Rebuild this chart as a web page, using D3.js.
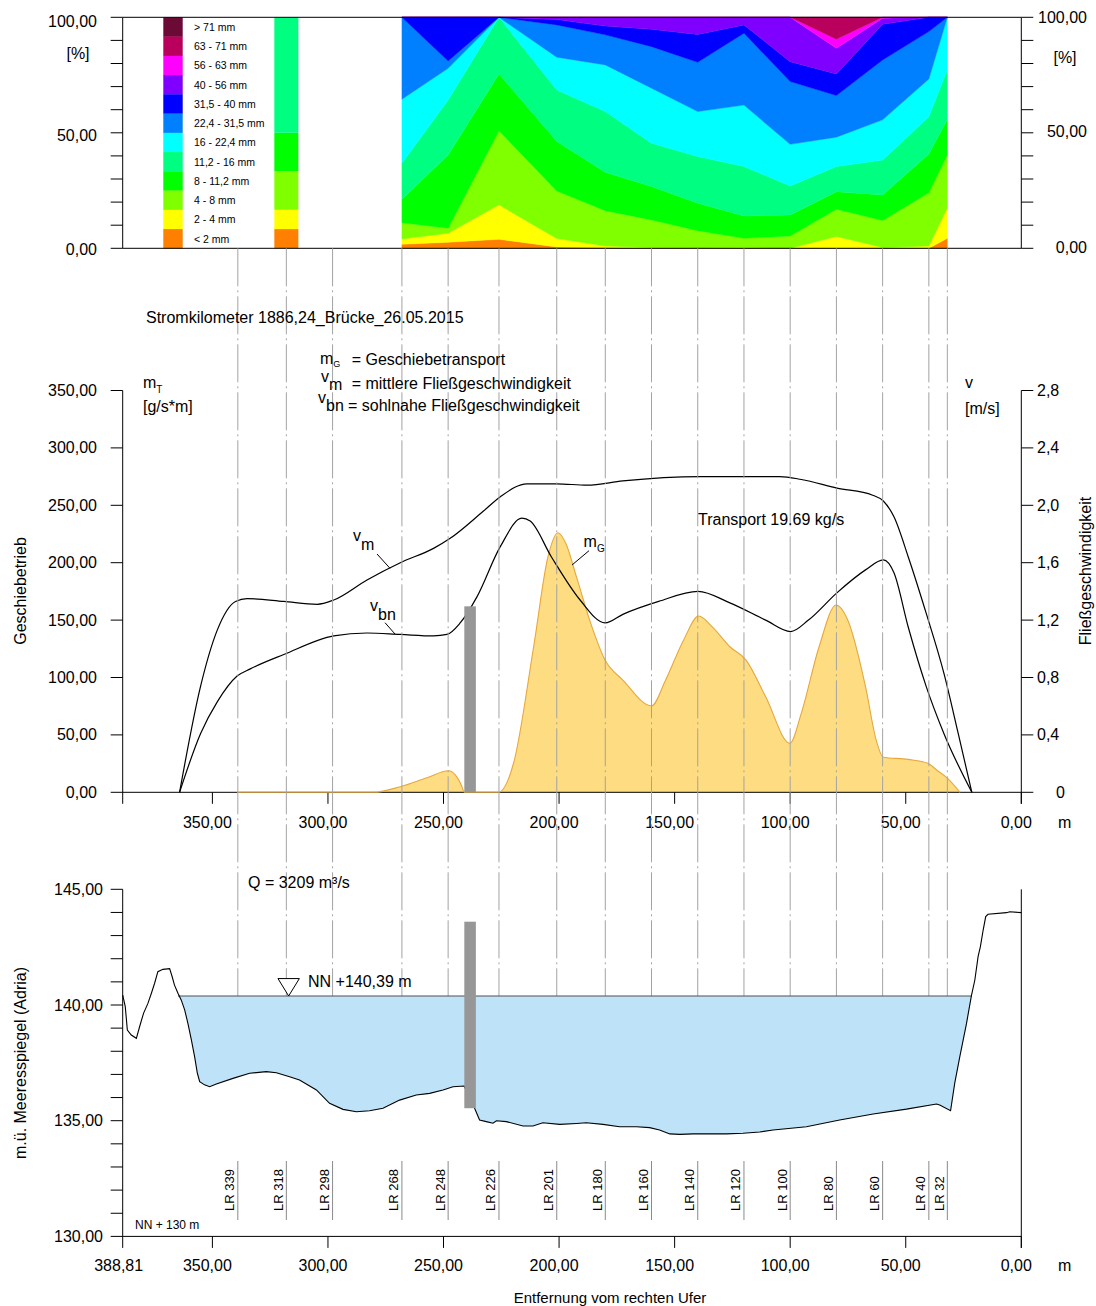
<!DOCTYPE html>
<html><head><meta charset="utf-8">
<script src="https://cdn.jsdelivr.net/npm/d3@7"></script>
<style>
body{margin:0;background:#fff}
svg{display:block}
text{font-family:'Liberation Sans',Arial,Helvetica,sans-serif;fill:#000}
</style>
</head><body>
<svg id="c" width="1096" height="1306"></svg>
<script>
// ---------------- DATA ----------------
const lrStations = [339,318,298,268,248,226,201,180,160,140,120,100,80,60,40,32];
const sampleStations = [268,248,226,201,180,160,140,120,100,80,60,40,32];
const grainClasses = ["< 2 mm","2 - 4 mm","4 - 8 mm","8 - 11,2 mm","11,2 - 16 mm","16 - 22,4 mm",
  "22,4 - 31,5 mm","31,5 - 40 mm","40 - 56 mm","56 - 63 mm","63 - 71 mm","> 71 mm"];
const grainColors = ["#ff8000","#ffff00","#80ff00","#00ff00","#00ff80","#00ffff",
  "#0080ff","#0000ff","#8000ff","#ff00ff","#b8005c","#6b0a35"];
// cumulative passing [%] (upper edge of each class) at the sample stations
const passLt2    = [1.7,2.6,3.9,0.6,0.3,0.1,0,0,0,0,0,0,4.3];
const pass2to4   = [4.0,6.5,18.8,4.2,1.0,0.4,0.1,0.3,0,5.1,0.4,1.0,17.6];
const pass4to8   = [11.1,8.7,50.9,24.8,16.3,12.3,7.6,4.3,5.3,16.9,12.0,24.1,40.4];
const pass8to11  = [21.2,40.4,75.5,46.2,32.9,26.7,19.5,14.0,14.4,24.5,23.1,40.8,55.8];
const pass11to16 = [36.8,64.2,100,68.5,59.2,45.5,39.7,35.4,27.0,35.4,38.2,57.0,77.2];
const pass16to22 = [64.5,77.9,100,82.7,79.4,69.3,59.2,62.0,45.0,48.1,55.6,73.3,100];
const pass22to31 = [100,81.1,100,96.7,92.4,87.3,80.5,93.1,72.2,66.1,81.5,93.8,100];
const pass31to40 = [100,100,100,99.0,96.2,94.8,92.6,96.7,80.8,75.5,97.0,100,100];
const pass40to56 = [100,100,100,100,100,100,100,100,100,86.6,99.6,100,100];
const pass56to63 = [100,100,100,100,100,100,100,100,100,90.5,100,100,100];
const pass63to71 = [100,100,100,100,100,100,100,100,100,100,100,100,100];
const passGt71   = [100,100,100,100,100,100,100,100,100,100,100,100,100];
// single sample bar at LR 318
const stripStation = 318;
const stripPass = [8.33,16.67,33.33,50,100,100,100,100,100,100,100,100];

// mean velocity v_m [m/s]
const vmDist = [364.2,355.1,347.9,340.0,335.0,319.1,304.7,297.5,283.1,268.7,254.3,247.1,232.7,225.4,213.9,201.0,187.9,172.4,139.0,104.5,95.2,79.8,64.3,59.7,55.1,48.9,41.2,33.5,27.3,21.4];
const vmVal  = [0,0.74,1.13,1.33,1.35,1.33,1.31,1.34,1.48,1.60,1.70,1.77,1.96,2.06,2.15,2.15,2.14,2.17,2.20,2.20,2.18,2.12,2.07,2.03,1.92,1.64,1.25,0.83,0.41,0];
// near-bed velocity v_bn [m/s]
const vbnDist = [364.2,355.1,347.9,339.3,333.6,319.1,297.5,283.1,268.7,254.3,248.5,242.8,235.6,225.5,216.1,212.5,203.3,190.9,180.1,172.4,156.9,139.9,126.1,110.6,99.8,92.1,79.8,67.4,59.7,55.1,48.9,41.2,33.5,21.4];
const vbnVal  = [0,0.41,0.63,0.81,0.86,0.96,1.09,1.11,1.10,1.09,1.10,1.18,1.36,1.71,1.91,1.89,1.64,1.34,1.18,1.24,1.33,1.40,1.32,1.20,1.12,1.20,1.39,1.55,1.62,1.53,1.15,0.74,0.41,0];
// bedload transport m_G [g/s*m]
const mgDist = [339.3,280.2,268.7,257.2,247.8,244.9,242.0,241.0,226.2,219.7,211.0,204.8,200.5,197.1,192.5,186.3,180.1,172.4,160.0,153.9,146.1,139.6,133.8,126.1,119.1,110.6,100.1,95.2,87.5,80.1,75.1,67.4,62.8,59.7,48.9,40.4,36.6,31.9,26.5];
const mgVal  = [0,0,4.9,12.7,18.8,15.1,4.9,0,0,25.3,126.8,205.2,226.1,216.9,187.8,147.2,115.2,97.8,75.2,97.8,132.7,153.6,144.3,126.8,115.2,83.3,42.7,68.8,126.8,163.2,150.1,92.0,45.6,30.5,28.7,25.3,19.4,12.2,0];

// bridge pier
const pierDist = [241.0, 236.0];
const pierTransportTop = 162;
const pierElev = [135.54, 143.6];

// cross-section ground profile [m ü. Adria]
const groundDist = [388.8,387.7,386.8,385.1,382.9,381.5,379.8,377.9,376.4,375.0,373.6,371.4,368.5,367.4,366.4,364.9,363.5,362.0,360.6,359.1,357.7,356.5,355.5,353.4,351.2,348.3,341.1,333.9,326.7,322.3,316.6,312.3,305.0,299.3,293.5,287.7,282.0,276.2,269.0,261.8,256.0,250.2,245.9,241.1,236.5,234.4,231.5,228.6,227.1,222.8,215.6,211.3,207.0,199.7,192.5,188.2,181.0,173.8,166.5,160.8,156.5,152.1,147.8,142.0,127.6,120.4,113.2,107.4,93.0,78.6,64.1,49.7,36.7,35.3,30.6,28.8,26.6,23.7,21.6,20.1,18.7,17.7,16.5,15.4,14.4,6.4,5.0,0];
const groundElev = [140.43,139.93,138.92,138.70,138.56,139.06,139.64,140.07,140.51,140.94,141.44,141.54,141.57,141.22,140.86,140.51,140.22,139.79,139.21,138.49,137.77,137.05,136.69,136.55,136.47,136.59,136.83,137.05,137.12,137.07,136.90,136.76,136.33,135.75,135.49,135.39,135.43,135.54,135.89,136.11,136.18,136.33,136.47,136.50,135.53,135.03,134.96,134.89,135.00,134.96,134.77,134.77,134.91,134.84,134.88,134.91,134.84,134.74,134.74,134.70,134.60,134.43,134.41,134.43,134.43,134.46,134.51,134.60,134.74,135.03,135.29,135.50,135.72,135.68,135.43,136.62,137.77,139.21,140.39,141.08,142.09,142.52,143.24,143.82,143.92,143.99,144.03,143.99];
const waterLevel = 140.39;
const waterEdges = [364.9, 21.6];
const trianglePos = 317;

// tick labels
const pctTicks = [0,50,100];
const mTicks = [0,50,100,150,200,250,300,350];
const vTicks = [0,0.4,0.8,1.2,1.6,2.0,2.4,2.8];
const elevTicks = [130,135,140,145];
const distTicks = [350,300,250,200,150,100,50,0];

// ---------------- DRAW ----------------
const svg = d3.select("#c");
svg.append("rect").attr("width",1096).attr("height",1306).attr("fill","#fff");
const fmt2 = d3.format(".2f");
const de = s => s.replace(".", ",");

const x = d3.scaleLinear().domain([388.81, 0]).range([122.7, 1021.3]);
const X0 = x(388.81), X1 = x(0);
const yP = d3.scaleLinear().domain([0,100]).range([248.3,17.3]);
const yM = d3.scaleLinear().domain([0,350]).range([792.3,390.5]);
const yV = d3.scaleLinear().domain([0,2.8]).range([792.3,390.5]);
const yE = d3.scaleLinear().domain([130,145]).range([1236.4,889.3]);

function line(g,x1,y1,x2,y2,stroke="#000",w=1){
  return g.append("line").attr("x1",x1).attr("y1",y1).attr("x2",x2).attr("y2",y2)
    .attr("stroke",stroke).attr("stroke-width",w);
}
function text(g,xx,yy,s,size=16,anchor="start"){
  return g.append("text").attr("x",xx).attr("y",yy).attr("font-size",size)
    .attr("text-anchor",anchor).text(s);
}

// ===== TOP PANEL: grain size distribution =====
const gTop = svg.append("g");
const passLists = [passLt2,pass2to4,pass4to8,pass8to11,pass11to16,pass16to22,pass22to31,pass31to40,pass40to56,pass56to63,pass63to71,passGt71];
const areaP = d3.area().x(p=>x(p.d)).y0(p=>yP(p.lo)).y1(p=>yP(p.hi));
passLists.forEach((arr,k)=>{
  const lower = k===0 ? arr.map(()=>0) : passLists[k-1];
  const pts = sampleStations.map((s,i)=>({d:s, lo:lower[i], hi:arr[i]}));
  gTop.append("path").attr("d",areaP(pts)).attr("fill",grainColors[k])
    .attr("stroke",grainColors[k]).attr("stroke-width",0.4);
});
// sample strip at LR 318
stripPass.forEach((v,k)=>{
  const lo = k===0 ? 0 : stripPass[k-1];
  if (v-lo <= 0) return;
  gTop.append("rect").attr("x",x(stripStation+5.2)).attr("width",x(stripStation-5.2)-x(stripStation+5.2))
    .attr("y",yP(v)).attr("height",yP(lo)-yP(v)).attr("fill",grainColors[k]);
});
// legend
const legH = (yP(0)-yP(100))/grainClasses.length;
grainClasses.slice().reverse().forEach((c,i)=>{
  const k = grainClasses.length-1-i;
  gTop.append("rect").attr("x",163.3).attr("y",yP(100)+i*legH).attr("width",19.4).attr("height",legH+0.3)
    .attr("fill",grainColors[k]);
  text(gTop,194,yP(100)+i*legH+legH/2+4,c,10.5);
});
// frame and ticks
line(gTop,X0,yP(0),X0,yP(100)); line(gTop,X1,yP(0),X1,yP(100));
line(gTop,X0,yP(100),X1,yP(100)); line(gTop,X0,yP(0),X1,yP(0));
d3.range(0,101,10).forEach(t=>{
  line(gTop,X0-12,yP(t),X0,yP(t)); line(gTop,X1,yP(t),X1+12,yP(t));
});
const pctLeftY = {0:254.5, 50:141, 100:26.5};
const pctRightY = {0:252.5, 50:137, 100:23};
pctTicks.forEach(t=>{
  text(gTop,97,pctLeftY[t],de(fmt2(t)),16,"end");
  text(gTop,1087,pctRightY[t],de(fmt2(t)),16,"end");
});
text(gTop,78,59,"[%]",16,"middle");
text(gTop,1065,63,"[%]",16,"middle");

// ===== MIDDLE PANEL =====
const gMid = svg.append("g");
const mgPts = mgDist.map((d,i)=>({d, v:mgVal[i]}));
gMid.append("path").attr("d", d3.area().curve(d3.curveMonotoneX).x(p=>x(p.d)).y0(yM(0)).y1(p=>yM(p.v))(mgPts))
  .attr("fill","#fddc82");
// axes
line(gMid,X0,yM(350),X0,yM(0)+11.5);
line(gMid,X1,yM(350),X1,yM(0)+11.5);
line(gMid,X0,yM(0),X1,yM(0));
mTicks.forEach(t=>{
  line(gMid,X0-12,yM(t),X0,yM(t));
  text(gMid,97,yM(t)+5.5,de(fmt2(t)),16,"end");
});
vTicks.forEach(t=>{
  line(gMid,X1,yV(t),X1+12,yV(t));
  text(gMid, t===0 ? 1056 : 1037, yV(t)+5.5, t===0 ? "0" : de(d3.format(".1f")(t)),16,"start");
});
distTicks.forEach(t=>{
  line(gMid,x(t),yM(0),x(t),yM(0)+11.5);
  text(gMid,x(t)-5,828,de(fmt2(t)),16,"middle");
});
text(gMid,1058,828,"m",16);
// m_G outline
gMid.append("path").attr("d", d3.line().curve(d3.curveMonotoneX).x(p=>x(p.d)).y(p=>yM(p.v))(mgPts))
  .attr("fill","none").attr("stroke","#e6a83e").attr("stroke-width",1.1);
// velocities
const vLine = d3.line().curve(d3.curveMonotoneX).x(p=>x(p.d)).y(p=>yV(p.v));
gMid.append("path").attr("d", vLine(vmDist.map((d,i)=>({d,v:vmVal[i]}))))
  .attr("fill","none").attr("stroke","#000").attr("stroke-width",1.2);
gMid.append("path").attr("d", vLine(vbnDist.map((d,i)=>({d,v:vbnVal[i]}))))
  .attr("fill","none").attr("stroke","#000").attr("stroke-width",1.2);
// pier
gMid.append("rect").attr("x",x(pierDist[0])).attr("width",x(pierDist[1])-x(pierDist[0]))
  .attr("y",yM(pierTransportTop)).attr("height",yM(0)-yM(pierTransportTop)).attr("fill","#979797");

// ===== BOTTOM PANEL =====
const gBot = svg.append("g");
// LR dashed lines (behind water)
lrStations.forEach(s=>{
  gBot.append("line").attr("x1",x(s)).attr("x2",x(s)).attr("y1",yP(0)).attr("y2",yE(waterLevel))
    .attr("stroke","#a3a3a3").attr("stroke-width",1).attr("stroke-dasharray","38,4,2,4");
});
// water
const gPts = groundDist.map((d,i)=>({d, e:groundElev[i]}));
const wet = [{d:waterEdges[0], e:waterLevel}]
  .concat(gPts.filter(p=>p.d<waterEdges[0] && p.d>waterEdges[1]))
  .concat([{d:waterEdges[1], e:waterLevel}]);
gBot.append("path").attr("d", d3.area().x(p=>x(p.d)).y0(yE(waterLevel)).y1(p=>yE(Math.min(p.e,waterLevel)))(wet))
  .attr("fill","#bee3f9");
line(gBot,x(waterEdges[0]),yE(waterLevel),x(waterEdges[1]),yE(waterLevel),"#505050",1.2);
gBot.append("path").attr("d", d3.line().x(p=>x(p.d)).y(p=>yE(p.e))(gPts))
  .attr("fill","none").attr("stroke","#000").attr("stroke-width",1.1);
gBot.append("rect").attr("x",x(pierDist[0])).attr("width",x(pierDist[1])-x(pierDist[0]))
  .attr("y",yE(pierElev[1])).attr("height",yE(pierElev[0])-yE(pierElev[1])).attr("fill","#979797");
// triangle
const tx = x(trianglePos), ty = yE(waterLevel);
gBot.append("path").attr("d",`M${tx-10.7},${ty-17.4}L${tx+10.7},${ty-17.4}L${tx},${ty}Z`)
  .attr("fill","#fff").attr("stroke","#000").attr("stroke-width",1);
text(gBot,308,987,"NN +" + de(fmt2(waterLevel)) + " m",16);
text(gBot,248,888,"Q = 3209 m³/s",16);
// axes
line(gBot,X0,yE(145),X0,yE(130)+11.5);
line(gBot,X1,yE(145),X1,yE(130)+11.5);
line(gBot,X0,yE(130),X1,yE(130));
d3.range(130,145.01,1).forEach(t=>line(gBot,X0-12,yE(t),X0,yE(t)));
elevTicks.forEach(t=>text(gBot,103,yE(t)+5.5,de(fmt2(t)),16,"end"));
distTicks.forEach(t=>{
  line(gBot,x(t),yE(130),x(t),yE(130)+11.5);
  text(gBot,x(t)-5,1271,de(fmt2(t)),16,"middle");
});
text(gBot,X0-4,1271,de(fmt2(388.81)),16,"middle");
text(gBot,1058,1271,"m",16);
// LR labels
lrStations.forEach(s=>{
  line(gBot,x(s),1161,x(s),1220,"#8a8a8a",1);
  gBot.append("text").attr("transform",`translate(${x(s)-3.5},1211) rotate(-90)`)
    .attr("font-size",13).text("LR " + s);
});
text(gBot,135,1229,"NN + 130 m",12);

// ===== TEXTS =====
const gTxt = svg.append("g");
text(gTxt,146,323,"Stromkilometer 1886,24_Brücke_26.05.2015",16);
let t1 = gTxt.append("text").attr("x",320).attr("y",364).attr("font-size",16);
t1.append("tspan").text("m");
t1.append("tspan").attr("font-size",9).attr("dy",3).text("G");
text(gTxt,351.7,365,"= Geschiebetransport",16);
let t2 = gTxt.append("text").attr("x",321).attr("y",382).attr("font-size",16);
t2.append("tspan").text("v");
t2.append("tspan").attr("dy",8).text("m");
text(gTxt,351.7,389,"= mittlere Fließgeschwindigkeit",16);
let t3 = gTxt.append("text").attr("x",318).attr("y",403).attr("font-size",16);
t3.append("tspan").text("v");
t3.append("tspan").attr("dy",8).text("bn");
text(gTxt,348,411,"= sohlnahe Fließgeschwindigkeit",16);
let t4 = gTxt.append("text").attr("x",143).attr("y",388).attr("font-size",16);
t4.append("tspan").text("m");
t4.append("tspan").attr("font-size",10).attr("dy",5).text("T");
text(gTxt,143,412,"[g/s*m]",16);
text(gTxt,965,388,"v",16);
text(gTxt,965,414,"[m/s]",16);
gTxt.append("text").attr("transform","translate(26,591) rotate(-90)").attr("font-size",16)
  .attr("text-anchor","middle").text("Geschiebetrieb");
gTxt.append("text").attr("transform","translate(1091,571) rotate(-90)").attr("font-size",16)
  .attr("text-anchor","middle").text("Fließgeschwindigkeit");
gTxt.append("text").attr("transform","translate(26,1063) rotate(-90)").attr("font-size",16)
  .attr("text-anchor","middle").text("m.ü. Meeresspiegel (Adria)");
text(gTxt,610,1303,"Entfernung vom rechten Ufer",15,"middle");
text(gTxt,698,525,"Transport 19.69 kg/s",16);
let a1 = gTxt.append("text").attr("x",353).attr("y",541).attr("font-size",16);
a1.append("tspan").text("v"); a1.append("tspan").attr("dy",9).text("m");
line(gTxt,377,554,390,568.3,"#000",1);
let a2 = gTxt.append("text").attr("x",370).attr("y",611).attr("font-size",16);
a2.append("tspan").text("v"); a2.append("tspan").attr("dy",9).text("bn");
line(gTxt,385,622.7,395,634,"#000",1);
let a3 = gTxt.append("text").attr("x",583.6).attr("y",547).attr("font-size",16);
a3.append("tspan").text("m"); a3.append("tspan").attr("font-size",10).attr("dy",5).text("G");
line(gTxt,589,550.7,572,565,"#000",1);
</script>
</body></html>
